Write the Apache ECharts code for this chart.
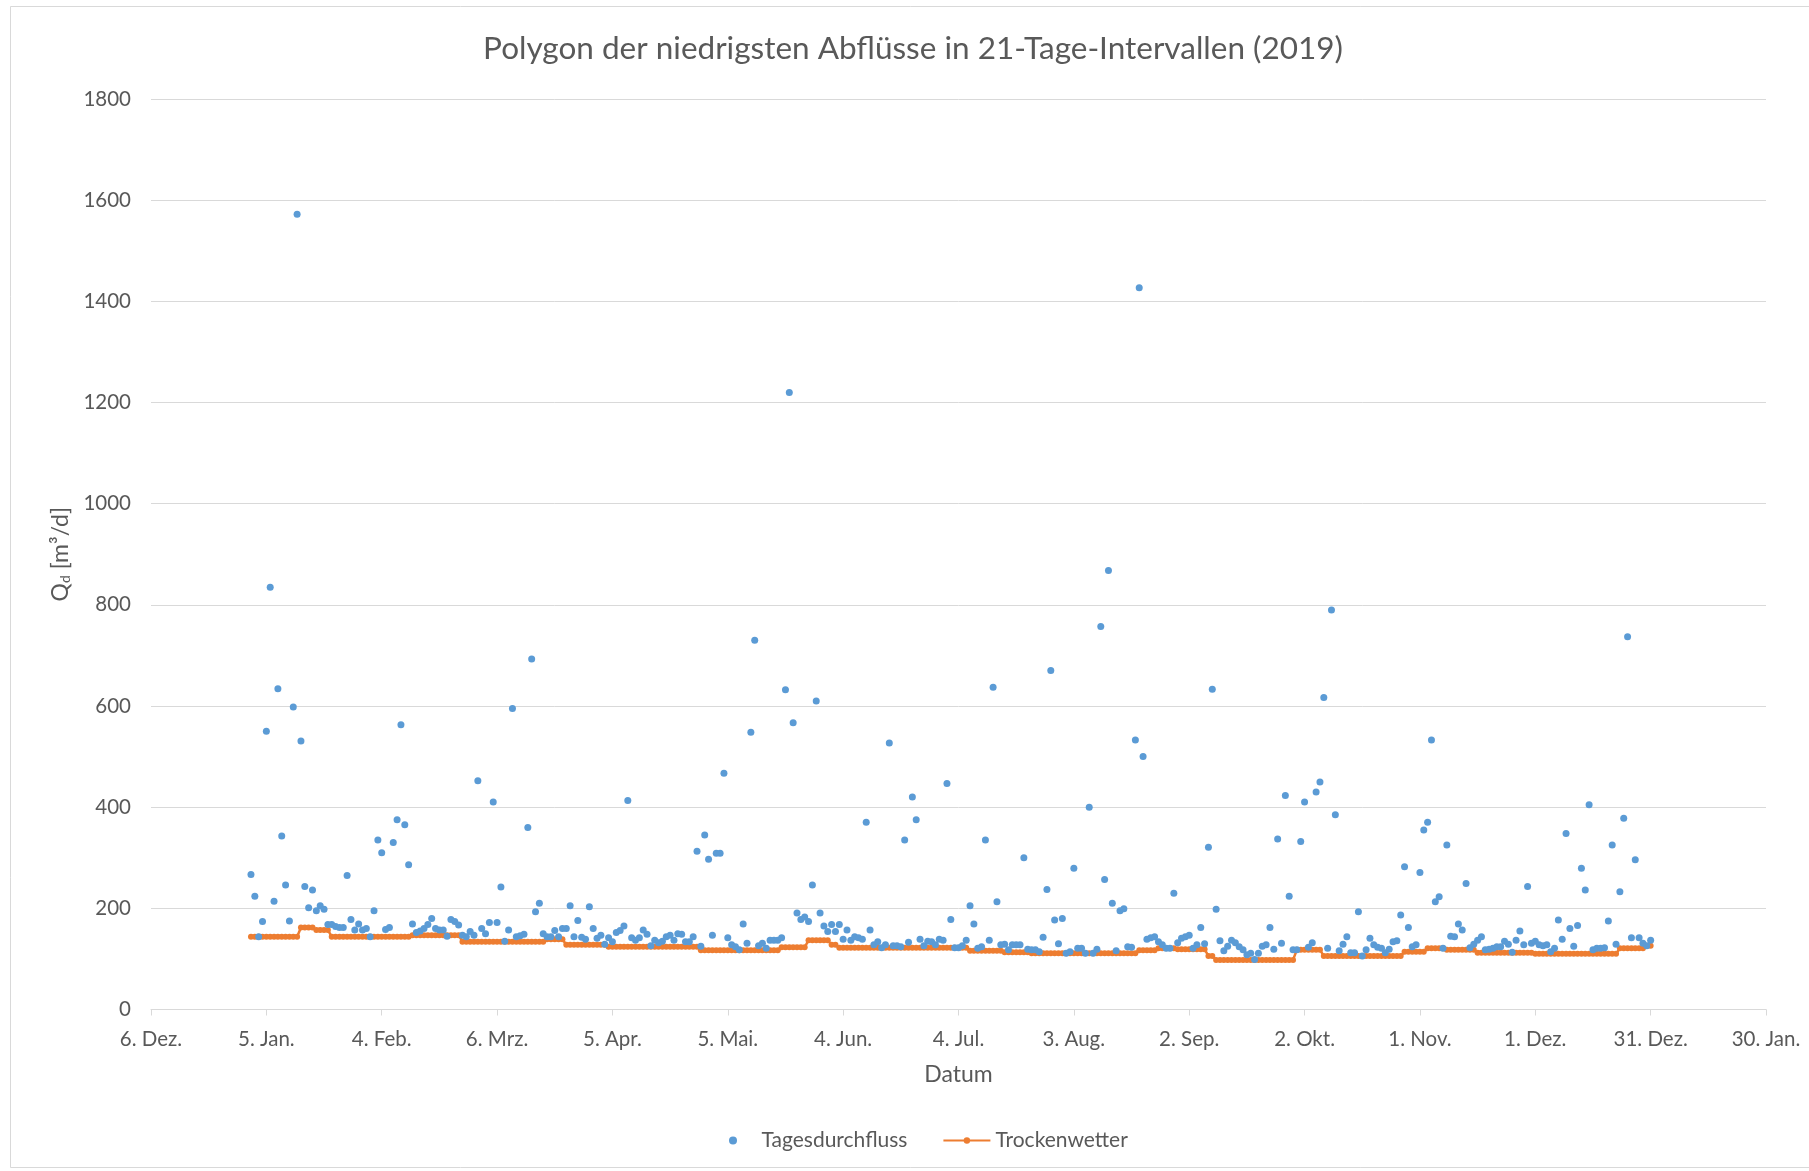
<!DOCTYPE html>
<html>
<head>
<meta charset="utf-8">
<script src="https://cdn.jsdelivr.net/npm/echarts@6/dist/echarts.min.js"></script>
<style>
html,body{margin:0;padding:0;background:#ffffff;}
#c{width:1809px;height:1171px;}
</style>
</head>
<body>
<div id="c"></div>
<script>
// ---------- data ----------
const chartTitle = 'Polygon der niedrigsten Abflüsse in 21-Tage-Intervallen (2019)';
const xTickLabels = ['6. Dez.', '5. Jan.', '4. Feb.', '6. Mrz.', '5. Apr.', '5. Mai.', '4. Jun.',
  '4. Jul.', '3. Aug.', '2. Sep.', '2. Okt.', '1. Nov.', '1. Dez.', '31. Dez.', '30. Jan.'];
const xAxisDays = { min: 0, max: 420, step: 30 };      // days after 6 Dec 2018
const yAxisValues = { min: 0, max: 1800, step: 200 };
const firstDay = 26;                                    // 1 Jan 2019 = day 26 after 6 Dec 2018
const seriesNames = ['Tagesdurchfluss', 'Trockenwetter'];

// daily flow 2019 (1 Jan .. 31 Dec), m³/d
const tagesdurchfluss = [
  267,224,144,174,550,835,214,634,343,246,
  175,598,1572,531,243,201,236,195,205,198,
  168,168,164,162,162,265,178,157,169,157,
  160,144,195,335,310,158,162,330,375,563,
  365,286,169,152,155,160,168,180,160,157,
  157,145,178,174,167,147,144,154,147,452,
  160,150,172,410,172,242,135,157,595,144,
  146,149,360,693,193,210,150,144,144,156,
  144,160,160,205,144,176,143,139,203,160,
  141,147,129,142,134,152,156,165,413,142,
  137,142,157,149,126,137,132,135,144,147,
  137,150,149,134,134,144,313,125,345,297,
  147,309,309,467,142,128,124,118,169,131,
  548,730,126,131,121,137,137,137,142,632,
  1220,567,191,178,183,174,246,610,191,165,
  154,168,154,168,139,157,137,144,142,139,
  370,157,128,134,122,128,527,126,126,124,
  335,133,420,375,139,126,135,134,128,139,
  137,447,178,122,122,126,137,205,169,121,
  124,335,137,637,213,128,129,118,128,128,
  128,300,119,118,118,114,143,237,670,177,
  130,180,111,114,279,121,121,111,400,111,
  119,757,257,868,210,116,195,199,124,123,
  533,1427,500,139,142,144,134,128,121,121,
  230,132,141,144,147,121,128,162,130,321,
  633,198,136,116,125,137,132,124,118,108,
  111,99,111,125,128,162,119,337,131,423,
  224,118,118,332,410,123,132,430,450,617,
  121,790,385,116,129,144,112,112,193,106,
  118,141,128,123,121,112,119,134,136,187,
  282,162,124,128,271,355,370,533,213,223,
  121,325,145,144,169,157,249,122,129,137,
  144,118,119,121,124,124,135,129,113,137,
  155,128,243,131,135,128,126,128,114,121,
  177,139,348,160,125,166,279,236,405,118,
  121,121,122,175,325,129,233,378,737,142,
  296,142,131,126,137
];

// dry-weather flow (lowest flows in 21-day intervals), m³/d
const trockenwetter = [
  144,144,144,144,144,144,144,144,144,144,
  144,144,144,
  162,162,162,162,
  157,157,157,157,
  144,144,144,144,144,144,144,144,144,144,
  144,144,144,144,144,144,144,144,144,144,
  144,
  147,147,147,147,147,147,147,147,147,147,
  147,147,147,
  134,134,134,134,134,134,134,134,134,134,
  134,134,134,134,134,134,134,134,134,134,
  134,134,
  139,139,139,139,139,
  128,128,128,128,128,128,128,128,128,128,
  128,
  124,124,124,124,124,124,124,124,124,124,
  124,124,124,124,124,124,124,124,124,124,
  124,124,124,124,
  117,117,117,117,117,117,117,117,117,117,
  117,117,117,117,117,117,117,117,117,117,
  117,
  123,123,123,123,123,123,123,
  137,137,137,137,137,137,
  128,128,
  122,122,122,122,122,122,122,122,122,122,
  122,122,122,122,122,122,122,122,122,122,
  122,122,122,122,122,122,122,122,122,122,
  122,122,122,122,
  116,116,116,116,116,116,116,116,116,
  113,113,113,113,113,113,113,
  111,111,111,111,111,111,111,111,111,111,
  111,111,111,111,111,111,111,111,111,111,
  111,111,111,111,111,111,111,111,
  117,117,117,117,117,
  121,121,121,121,121,
  119,119,119,119,119,119,119,119,
  106,106,
  98,98,98,98,98,98,98,98,98,98,
  98,98,98,98,98,98,98,98,98,98,
  98,
  118,118,118,118,118,118,118,
  106,106,106,106,106,106,106,106,106,106,
  106,106,106,106,106,106,106,106,106,106,
  106,
  114,114,114,114,114,114,
  121,121,121,121,121,
  118,118,118,118,118,118,118,118,
  112,112,112,112,112,112,112,112,112,112,
  112,112,112,112,112,
  110,110,110,110,110,110,110,110,110,110,
  110,110,110,110,110,110,110,110,110,110,
  110,110,
  121,121,121,121,121,121,121,
  126,126
];

// ---------- chart ----------
const FONT = 'Lato, "Open Sans", "Noto Sans", sans-serif';
const TXT = '#595959';
const flowPts = tagesdurchfluss.map((v, i) => [firstDay + i, v]);
const dryPts = trockenwetter.map((v, i) => [firstDay + i, v]);

const chart = echarts.init(document.getElementById('c'), null, { renderer: 'canvas' });
chart.setOption({
  animation: false,
  backgroundColor: '#ffffff',
  textStyle: { fontFamily: FONT },
  graphic: [
    { type: 'rect', silent: true, z: -10,
      shape: { x: 10.5, y: 6.5, width: 1830, height: 1161 },
      style: { fill: null, stroke: '#d9d9d9', lineWidth: 1 } },
    { type: 'text', x: 913, y: 49, silent: true,
      style: { text: chartTitle, font: '31.5px ' + FONT, fill: TXT,
               textAlign: 'center', textVerticalAlign: 'middle' } }
  ],
  grid: { left: 151, right: 43, top: 99, bottom: 161.5 },
  legend: {
    data: seriesNames,
    left: 724, top: 1125,
    itemWidth: 47, itemHeight: 8, itemGap: 35,
    textStyle: { fontSize: 21, color: TXT, fontFamily: FONT }
  },
  xAxis: {
    type: 'value',
    min: xAxisDays.min, max: xAxisDays.max, interval: xAxisDays.step,
    axisLine: { show: true, lineStyle: { color: '#d9d9d9', width: 1 } },
    axisTick: { show: true, length: 6, lineStyle: { color: '#d9d9d9' } },
    splitLine: { show: false },
    axisLabel: {
      color: TXT, fontSize: 20.5, fontFamily: FONT, margin: 19,
      formatter: v => xTickLabels[Math.round((v - xAxisDays.min) / xAxisDays.step)] || ''
    },
    name: 'Datum', nameLocation: 'middle', nameGap: 54,
    nameTextStyle: { color: TXT, fontSize: 23, fontFamily: FONT }
  },
  yAxis: {
    type: 'value',
    min: yAxisValues.min, max: yAxisValues.max, interval: yAxisValues.step,
    axisLine: { show: false }, axisTick: { show: false },
    splitLine: { lineStyle: { color: '#d9d9d9', width: 1 } },
    axisLabel: { color: TXT, fontSize: 20.5, fontFamily: FONT, margin: 20,
                 formatter: v => String(v) },
    name: 'Q{s|d} [m³/d]', nameLocation: 'middle', nameGap: 76, nameRotate: 90,
    nameTextStyle: { color: TXT, fontSize: 23, fontFamily: FONT,
      rich: { s: { fontSize: 14, color: TXT, fontFamily: FONT, verticalAlign: 'bottom', padding: [8, 0, 0, 0] } } }
  },
  series: [
    { name: seriesNames[0], type: 'scatter', data: flowPts, z: 4,
      symbol: 'circle', symbolSize: 7,
      itemStyle: { color: '#5B9BD5', opacity: 1 } },
    { name: seriesNames[1], type: 'line', data: dryPts, z: 3,
      symbol: 'circle', symbolSize: 6, showSymbol: true, showAllSymbol: true,
      lineStyle: { color: '#ED7D31', width: 2.5 },
      itemStyle: { color: '#ED7D31' } }
  ]
});
</script>
</body>
</html>
